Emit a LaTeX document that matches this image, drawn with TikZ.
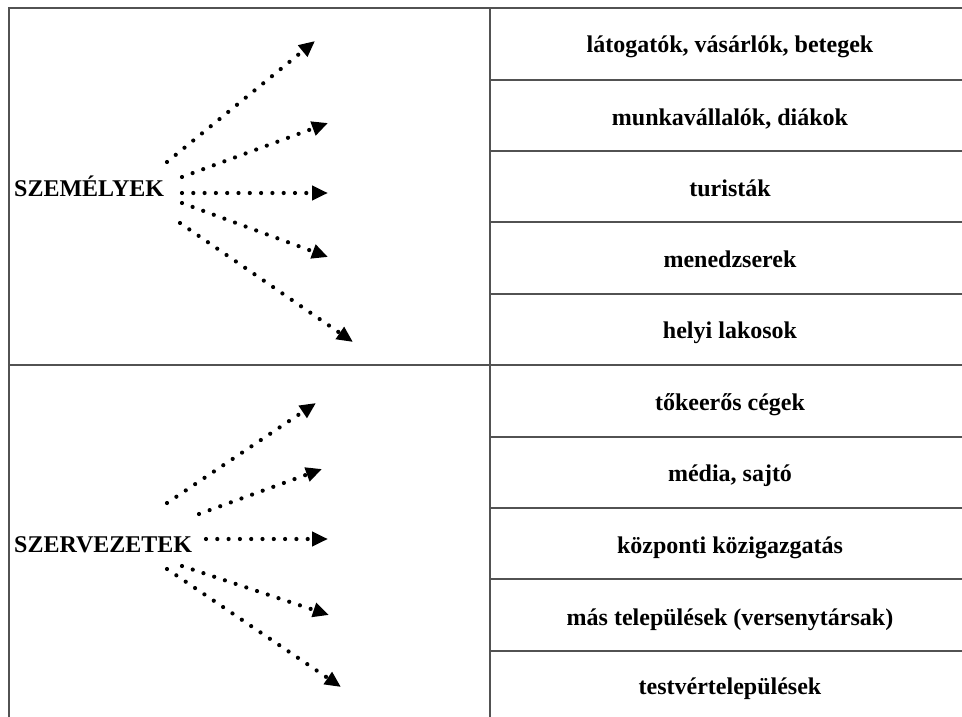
\documentclass[tikz,border=0pt]{standalone}
\usepackage{fontspec}
\setmainfont{Liberation Serif}
\usetikzlibrary{arrows.meta}
\begin{document}
\begin{tikzpicture}[x=1pt,y=-1pt,
  rule/.style={draw=black!68, line width=1.4pt},
  cell/.style={font=\bfseries\fontsize{24}{28}\selectfont, anchor=base, inner sep=0pt},
  group/.style={font=\bfseries\fontsize{24}{28}\selectfont, anchor=base west, inner sep=0pt},
  dotarrow/.style={line width=4.2pt, line cap=round, dash pattern=on 0pt off 11.3pt,
    -{Triangle[length=16pt,width=14pt]}}]
\useasboundingbox (0,0) rectangle (962,717);
\fill[white] (0,0) rectangle (962,717);

% table frame
\draw[rule] (9,730) -- (9,8) -- (975,8);
\draw[rule] (490,8) -- (490,730);
\draw[rule] (9,365) -- (975,365);
\foreach \y in {80,151,222,294,437,508,579,651}
  \draw[rule] (490,\y) -- (975,\y);

% right column entries
\node[cell] (p1) at (730,53)  {látogatók, vásárlók, betegek};
\node[cell] (p2) at (730,125) {munkavállalók, diákok};
\node[cell] (p3) at (730,196) {turisták};
\node[cell] (p4) at (730,267) {menedzserek};
\node[cell] (p5) at (730,338) {helyi lakosok};
\node[cell] (o1) at (730,410) {tőkeerős cégek};
\node[cell] (o2) at (730,481) {média, sajtó};
\node[cell] (o3) at (730,553) {központi közigazgatás};
\node[cell] (o4) at (730,625) {más települések (versenytársak)};
\node[cell] (o5) at (730,694) {testvértelepülések};

% group labels
\node[group] (sz) at (14,196) {SZEMÉLYEK};
\node[group] (sv) at (14,552) {SZERVEZETEK};

% arrow end points
\coordinate (sa1) at (167,162); \coordinate (ta1) at (315,41);
\coordinate (sa2) at (182,177); \coordinate (ta2) at (328,123);
\coordinate (sa3) at (182,193); \coordinate (ta3) at (328,193);
\coordinate (sa4) at (182,203); \coordinate (ta4) at (328,257);
\coordinate (sa5) at (180,223); \coordinate (ta5) at (353,342);

\coordinate (sb1) at (167,503); \coordinate (tb1) at (316,403);
\coordinate (sb2) at (199,514); \coordinate (tb2) at (322,469);
\coordinate (sb3) at (206,539); \coordinate (tb3) at (328,539);
\coordinate (sb4) at (182,566); \coordinate (tb4) at (329,615);
\coordinate (sb5) at (167,569); \coordinate (tb5) at (341,687);

\foreach \i in {1,...,5} {
  \draw[dotarrow] (sa\i) -- (ta\i);
  \draw[dotarrow] (sb\i) -- (tb\i);
}
\end{tikzpicture}
\end{document}
